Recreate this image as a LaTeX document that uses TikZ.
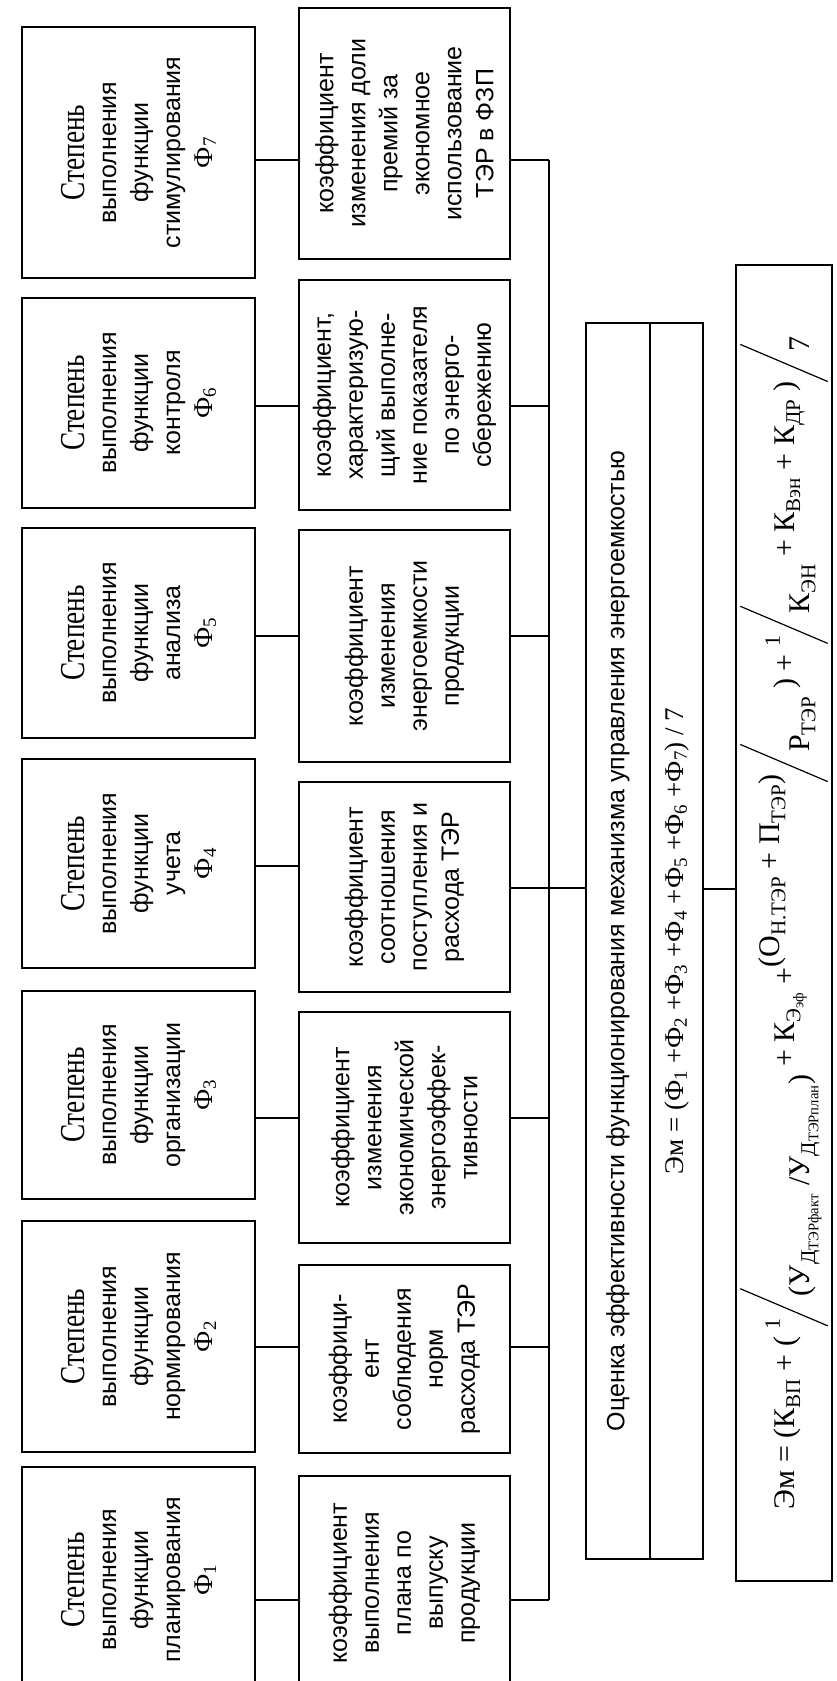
\documentclass[tikz,border=0pt]{standalone}
\usepackage{fontspec}
\usepackage{graphicx}
\setmainfont{Liberation Serif}
\setsansfont{Liberation Sans}
\newfontfamily\stepfont[FakeStretch=0.78]{Liberation Serif}
\usepackage{tikz}

\newcommand{\boxfont}{\sffamily\fontsize{25}{32}\selectfont}
\newcommand{\stw}[1]{{\stepfont\fontsize{35}{32}\selectfont #1}}
\newcommand{\phw}[1]{{\rmfamily\fontsize{27}{32}\selectfont Ф\textsubscript{#1}}}
\newcommand{\bigslash}{\raisebox{-33pt}{\rotatebox{67}{\rule{95pt}{1.2pt}}}}
\newcommand{\slfrac}[2]{\raisebox{15pt}{#1}\kern-8pt\bigslash\kern-8pt\raisebox{-15pt}{#2}}

\tikzset{
  funcbox/.style={draw, rotate=90, align=center, inner sep=0pt, minimum height=233pt, font=\boxfont},
  coefbox/.style={draw, rotate=90, align=center, inner sep=0pt, minimum height=211pt, font=\boxfont},
  longbox/.style={draw, rotate=90, inner sep=0pt}
}

\begin{document}
\begin{tikzpicture}[x=1pt,y=-1pt,line width=1.7pt]
\useasboundingbox (0,0) rectangle (837,1681);
\clip (0,0) rectangle (837,1681);
%function boxes
\node[funcbox, minimum width=251pt] (f7) at (138.5,152.5){\stw{Степень}\\выполнения\\функции\\стимулирования\\\phw{7}};
\node[funcbox, minimum width=210pt] (f6) at (138.5,403){\stw{Степень}\\выполнения\\функции\\контроля\\\phw{6}};
\node[funcbox, minimum width=210pt] (f5) at (138.5,633){\stw{Степень}\\выполнения\\функции\\анализа\\\phw{5}};
\node[funcbox, minimum width=209pt] (f4) at (138.5,863.5){\stw{Степень}\\выполнения\\функции\\учета\\\phw{4}};
\node[funcbox, minimum width=208pt] (f3) at (138.5,1095){\stw{Степень}\\выполнения\\функции\\организации\\\phw{3}};
\node[funcbox, minimum width=231pt] (f2) at (138.5,1336.5){\stw{Степень}\\выполнения\\функции\\нормирования\\\phw{2}};
\node[funcbox, minimum width=226pt] (f1) at (138.5,1580){\stw{Степень}\\выполнения\\функции\\планирования\\\phw{1}};

%coefficient boxes
\node[coefbox, minimum width=251pt] (k7) at (404.5,133.5){коэффициент\\изменения доли\\премий за\\экономное\\использование\\ТЭР в ФЗП};
\node[coefbox, minimum width=230pt] (k6) at (404.5,395){коэффициент,\\характеризую-\\щий выполне-\\ние показателя\\по энерго-\\сбережению};
\node[coefbox, minimum width=232pt] (k5) at (404.5,646){коэффициент\\изменения\\энергоемкости\\продукции};
\node[coefbox, minimum width=210pt] (k4) at (404.5,887){коэффициент\\соотношения\\поступления и\\расхода ТЭР};
\node[coefbox, minimum width=231pt] (k3) at (404.5,1127.5){коэффициент\\изменения\\экономической\\энергоэффек-\\тивности};
\node[coefbox, minimum width=188pt] (k2) at (404.5,1359){коэффици-\\ент\\соблюдения\\норм\\расхода ТЭР};
\node[coefbox, minimum width=214pt] (k1) at (404.5,1583){коэффициент\\выполнения\\плана по\\выпуску\\продукции};

%assessment boxes
\node[longbox, minimum width=1236pt, minimum height=64pt, font=\sffamily\fontsize{25}{28}\selectfont] (mtitle) at (618,941){Оценка эффективности функционирования механизма управления энергоемкостью};
\node[longbox, minimum width=1236pt, minimum height=53pt, font=\rmfamily\fontsize{27}{30}\selectfont] (mform) at (676.5,941){Эм = (Ф\textsubscript{1} +Ф\textsubscript{2} +Ф\textsubscript{3} +Ф\textsubscript{4} +Ф\textsubscript{5} +Ф\textsubscript{6} +Ф\textsubscript{7}) / 7};
\node[longbox, minimum width=1316pt, minimum height=96pt, font=\rmfamily\fontsize{30}{34}\selectfont] (fbox) at (784,923){Эм = (К\textsubscript{ВП} + ( \slfrac{\fontsize{22}{24}\selectfont 1}{(У\textsubscript{Д\textsubscript{ТЭРфакт}} /У\textsubscript{Д\textsubscript{ТЭРплан}})} + К\textsubscript{Э\textsubscript{эф}} +\slfrac{(О\textsubscript{Н.ТЭР} + П\textsubscript{ТЭР})}{Р\textsubscript{ТЭР}} ) + \slfrac{\fontsize{22}{24}\selectfont 1}{К\textsubscript{ЭН}} + К\textsubscript{Вэн} + К\textsubscript{ДР} ) \slfrac{}{7}};

%bus line
\coordinate (bustop) at (549,160);
\coordinate (busbot) at (549,1600);
\draw (bustop) -- (busbot);

%links
\draw (f7.south |- 0,160) -- (k7.north |- 0,160);
\draw (f6.south |- 0,406) -- (k6.north |- 0,406);
\draw (f5.south |- 0,636) -- (k5.north |- 0,636);
\draw (f4.south |- 0,866) -- (k4.north |- 0,866);
\draw (f3.south |- 0,1118) -- (k3.north |- 0,1118);
\draw (f2.south |- 0,1347) -- (k2.north |- 0,1347);
\draw (f1.south |- 0,1600) -- (k1.north |- 0,1600);

\draw (k7.south |- 0,160) -- (bustop);
\draw (k6.south |- 0,406) -- (bustop |- 0,406);
\draw (k5.south |- 0,636) -- (bustop |- 0,636);
\draw (k4.south |- 0,888) -- (mtitle.north |- 0,888);
\draw (k3.south |- 0,1118) -- (bustop |- 0,1118);
\draw (k2.south |- 0,1347) -- (bustop |- 0,1347);
\draw (k1.south |- 0,1600) -- (busbot);

\draw (mform.south |- 0,889) -- (fbox.north |- 0,889);
\end{tikzpicture}
\end{document}
